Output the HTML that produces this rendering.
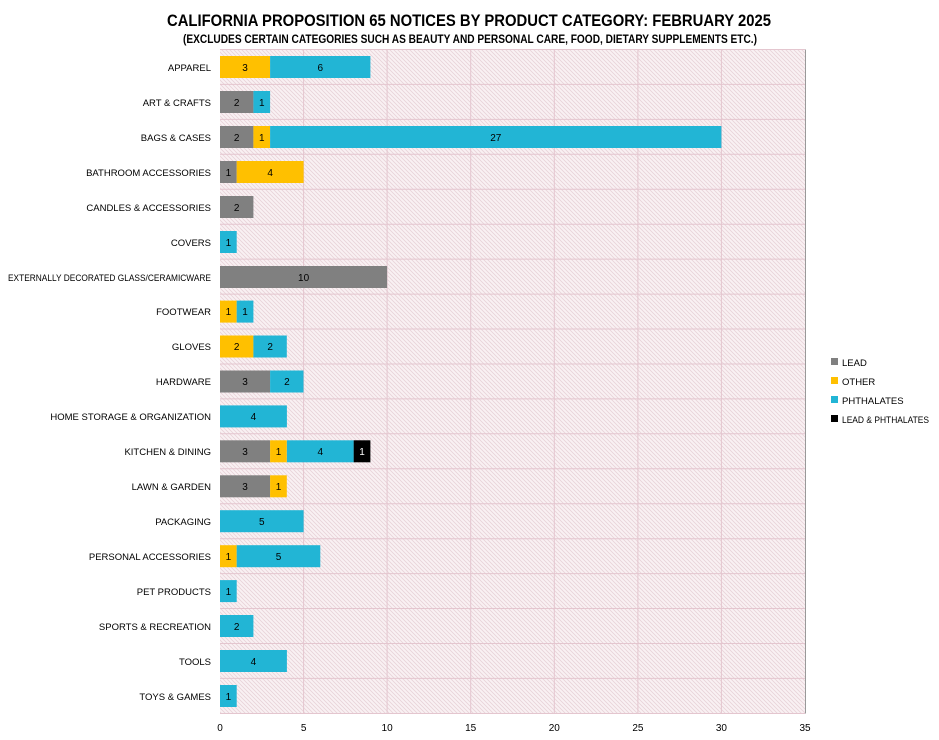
<!DOCTYPE html>
<html><head><meta charset="utf-8"><style>
body{margin:0;background:#fff;}
text{font-family:"Liberation Sans",sans-serif;}
</style></head><body>
<svg width="939" height="735" viewBox="0 0 939 735" xmlns="http://www.w3.org/2000/svg">
<defs>
<pattern id="h" width="4" height="4" patternUnits="userSpaceOnUse">
<rect width="4" height="4" fill="#f9f1f3"/>
<path d="M0,0 L4,4 M-1,3 L1,5 M3,-1 L5,1" stroke="#e8d2d8" stroke-width="0.8"/>
</pattern>
</defs>
<text x="167" y="26" textLength="604" lengthAdjust="spacingAndGlyphs" font-size="17" font-weight="bold" fill="#000">CALIFORNIA PROPOSITION 65 NOTICES BY PRODUCT CATEGORY: FEBRUARY 2025</text>
<text x="183" y="43" textLength="574" lengthAdjust="spacingAndGlyphs" font-size="11.5" font-weight="bold" fill="#000">(EXCLUDES CERTAIN CATEGORIES SUCH AS BEAUTY AND PERSONAL CARE, FOOD, DIETARY SUPPLEMENTS ETC.)</text>
<rect x="220" y="49.5" width="585" height="664" fill="url(#h)"/>
<g stroke="#e4c6cf" stroke-width="1">
<line x1="303.6" y1="49.5" x2="303.6" y2="713.5"/><line x1="387.1" y1="49.5" x2="387.1" y2="713.5"/>
<line x1="470.7" y1="49.5" x2="470.7" y2="713.5"/><line x1="554.3" y1="49.5" x2="554.3" y2="713.5"/>
<line x1="637.9" y1="49.5" x2="637.9" y2="713.5"/><line x1="721.4" y1="49.5" x2="721.4" y2="713.5"/>
<line x1="220" y1="49.5" x2="805" y2="49.5"/>
<line x1="220" y1="84.4" x2="805" y2="84.4"/><line x1="220" y1="119.4" x2="805" y2="119.4"/>
<line x1="220" y1="154.3" x2="805" y2="154.3"/><line x1="220" y1="189.3" x2="805" y2="189.3"/>
<line x1="220" y1="224.2" x2="805" y2="224.2"/><line x1="220" y1="259.1" x2="805" y2="259.1"/>
<line x1="220" y1="294.1" x2="805" y2="294.1"/><line x1="220" y1="329" x2="805" y2="329"/>
<line x1="220" y1="364" x2="805" y2="364"/><line x1="220" y1="398.9" x2="805" y2="398.9"/>
<line x1="220" y1="433.8" x2="805" y2="433.8"/><line x1="220" y1="468.8" x2="805" y2="468.8"/>
<line x1="220" y1="503.7" x2="805" y2="503.7"/><line x1="220" y1="538.7" x2="805" y2="538.7"/>
<line x1="220" y1="573.6" x2="805" y2="573.6"/><line x1="220" y1="608.5" x2="805" y2="608.5"/>
<line x1="220" y1="643.5" x2="805" y2="643.5"/><line x1="220" y1="678.4" x2="805" y2="678.4"/>
<line x1="220" y1="713.5" x2="805" y2="713.5"/>
</g>
<line x1="805.5" y1="49.5" x2="805.5" y2="713.5" stroke="#999"/>
<g font-size="10" text-anchor="middle" fill="#000">
<text x="220" y="731">0</text><text x="303.6" y="731">5</text><text x="387.1" y="731">10</text><text x="470.7" y="731">15</text><text x="554.3" y="731">20</text><text x="637.9" y="731">25</text><text x="721.4" y="731">30</text><text x="805" y="731">35</text>
</g>
<g font-size="9.5" text-anchor="end" fill="#000">
<text x="211" y="71">APPAREL</text><text x="211" y="106">ART &amp; CRAFTS</text><text x="211" y="141">BAGS &amp; CASES</text>
<text x="211" y="176">BATHROOM ACCESSORIES</text><text x="211" y="211">CANDLES &amp; ACCESSORIES</text><text x="211" y="246">COVERS</text>
<text x="211" y="281" textLength="203" lengthAdjust="spacingAndGlyphs">EXTERNALLY DECORATED GLASS/CERAMICWARE</text><text x="211" y="315">FOOTWEAR</text><text x="211" y="350">GLOVES</text>
<text x="211" y="385">HARDWARE</text><text x="211" y="420">HOME STORAGE &amp; ORGANIZATION</text><text x="211" y="455">KITCHEN &amp; DINING</text>
<text x="211" y="490">LAWN &amp; GARDEN</text><text x="211" y="525">PACKAGING</text><text x="211" y="560">PERSONAL ACCESSORIES</text>
<text x="211" y="595">PET PRODUCTS</text><text x="211" y="630">SPORTS &amp; RECREATION</text><text x="211" y="665">TOOLS</text><text x="211" y="700">TOYS &amp; GAMES</text>
</g>
<g font-size="10" text-anchor="middle" fill="#000">
<rect x="220" y="56" width="50.1" height="22" fill="#FFC000"/><text x="245" y="71">3</text>
<rect x="270.1" y="56" width="100.3" height="22" fill="#22B5D5"/><text x="320.3" y="71">6</text>
<rect x="220" y="91" width="33.4" height="22" fill="#808080"/><text x="236.7" y="106">2</text>
<rect x="253.4" y="91" width="16.7" height="22" fill="#22B5D5"/><text x="261.8" y="106">1</text>
<rect x="220" y="126" width="33.4" height="22" fill="#808080"/><text x="236.7" y="141">2</text>
<rect x="253.4" y="126" width="16.7" height="22" fill="#FFC000"/><text x="261.8" y="141">1</text>
<rect x="270.1" y="126" width="451.3" height="22" fill="#22B5D5"/><text x="495.8" y="141">27</text>
<rect x="220" y="161" width="16.7" height="22" fill="#808080"/><text x="228.4" y="176">1</text>
<rect x="236.7" y="161" width="66.9" height="22" fill="#FFC000"/><text x="270.1" y="176">4</text>
<rect x="220" y="196" width="33.4" height="22" fill="#808080"/><text x="236.7" y="211">2</text>
<rect x="220" y="231" width="16.7" height="22" fill="#22B5D5"/><text x="228.4" y="246">1</text>
<rect x="220" y="266" width="167.1" height="22" fill="#808080"/><text x="303.6" y="281">10</text>
<rect x="220" y="300.6" width="16.7" height="22" fill="#FFC000"/><text x="228.4" y="315">1</text>
<rect x="236.7" y="300.6" width="16.7" height="22" fill="#22B5D5"/><text x="245" y="315">1</text>
<rect x="220" y="335.5" width="33.4" height="22" fill="#FFC000"/><text x="236.7" y="350">2</text>
<rect x="253.4" y="335.5" width="33.4" height="22" fill="#22B5D5"/><text x="270.1" y="350">2</text>
<rect x="220" y="370.5" width="50.1" height="22" fill="#808080"/><text x="245" y="385">3</text>
<rect x="270.1" y="370.5" width="33.4" height="22" fill="#22B5D5"/><text x="286.9" y="385">2</text>
<rect x="220" y="405.4" width="66.9" height="22" fill="#22B5D5"/><text x="253.4" y="420">4</text>
<rect x="220" y="440.3" width="50.1" height="22" fill="#808080"/><text x="245" y="455">3</text>
<rect x="270.1" y="440.3" width="16.7" height="22" fill="#FFC000"/><text x="278.5" y="455">1</text>
<rect x="286.9" y="440.3" width="66.9" height="22" fill="#22B5D5"/><text x="320.3" y="455">4</text>
<rect x="353.7" y="440.3" width="16.7" height="22" fill="#000"/><text x="362" y="455" fill="#fff">1</text>
<rect x="220" y="475.3" width="50.1" height="22" fill="#808080"/><text x="245" y="490">3</text>
<rect x="270.1" y="475.3" width="16.7" height="22" fill="#FFC000"/><text x="278.5" y="490">1</text>
<rect x="220" y="510.2" width="83.6" height="22" fill="#22B5D5"/><text x="261.8" y="525">5</text>
<rect x="220" y="545.2" width="16.7" height="22" fill="#FFC000"/><text x="228.4" y="560">1</text>
<rect x="236.7" y="545.2" width="83.6" height="22" fill="#22B5D5"/><text x="278.5" y="560">5</text>
<rect x="220" y="580.1" width="16.7" height="22" fill="#22B5D5"/><text x="228.4" y="595">1</text>
<rect x="220" y="615" width="33.4" height="22" fill="#22B5D5"/><text x="236.7" y="630">2</text>
<rect x="220" y="650" width="66.9" height="22" fill="#22B5D5"/><text x="253.4" y="665">4</text>
<rect x="220" y="685" width="16.7" height="22" fill="#22B5D5"/><text x="228.4" y="700">1</text>
</g>
<g font-size="9.5" fill="#000">
<rect x="831" y="358" width="7" height="7" fill="#808080"/><text x="842" y="366">LEAD</text>
<rect x="831" y="377" width="7" height="7" fill="#FFC000"/><text x="842" y="385">OTHER</text>
<rect x="831" y="396" width="7" height="7" fill="#22B5D5"/><text x="842" y="404">PHTHALATES</text>
<rect x="831" y="415" width="7" height="7" fill="#000"/><text x="842" y="423" textLength="87" lengthAdjust="spacingAndGlyphs">LEAD &amp; PHTHALATES</text>
</g>
</svg>
</body></html>
